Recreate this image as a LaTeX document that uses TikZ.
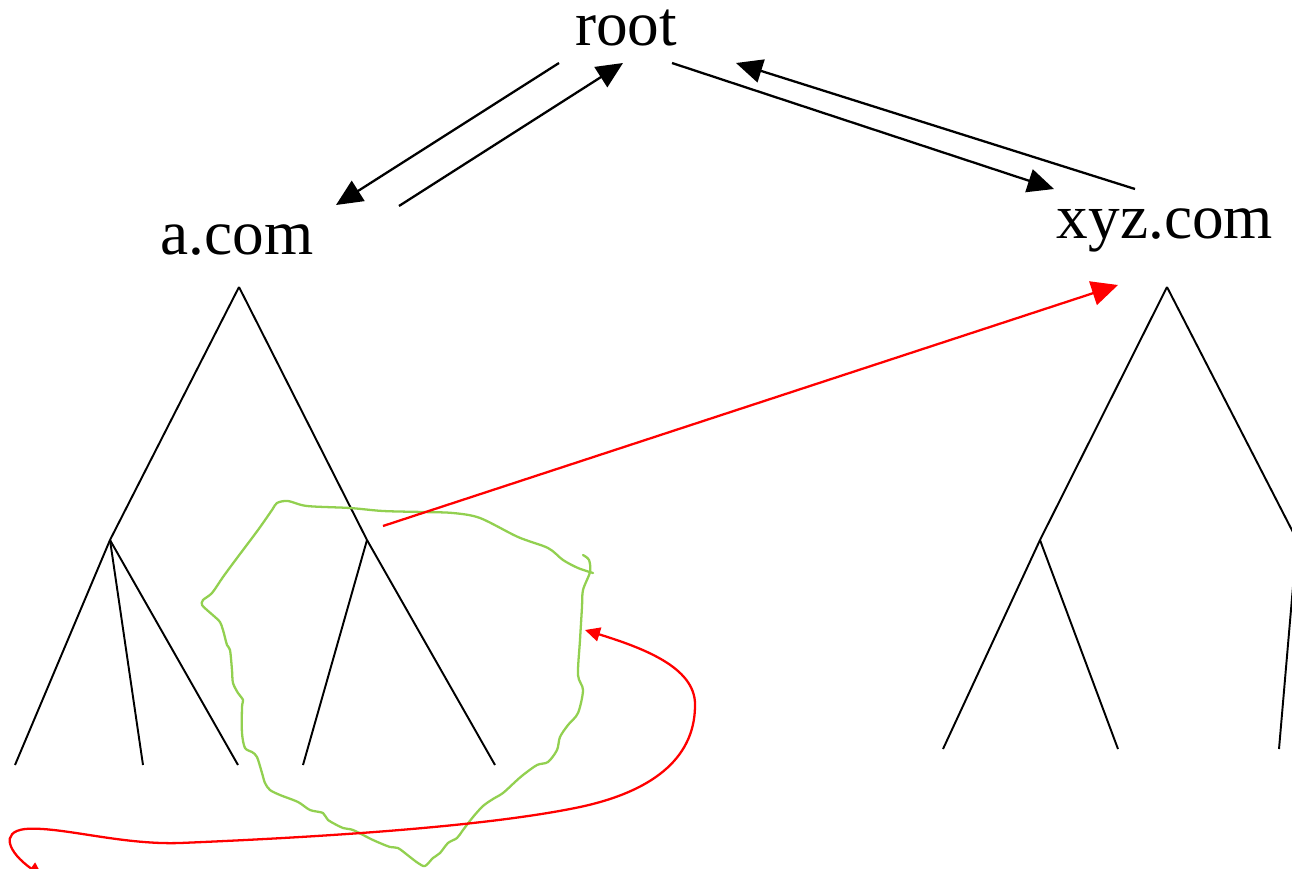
\documentclass[tikz,border=0pt]{standalone}
\usepackage{fontspec}
\setmainfont{Liberation Serif}
\usetikzlibrary{arrows.meta}
\definecolor{scribblegreen}{RGB}{146,208,80}

\begin{document}
\begin{tikzpicture}[x=0.02cm,y=-0.02cm]
\tikzstyle{every node}+=[inner sep=0pt]
\tikzstyle{zonelabel}=[font=\fontsize{36}{40}\selectfont, anchor=base]
\tikzstyle{query}=[black, line width=1.3pt, -{Triangle[length=15pt,width=13.5pt]}]
\tikzstyle{branch}=[black, line width=1.1pt]
\tikzstyle{hop}=[red, line width=1.3pt, -{Triangle[length=15pt,width=14pt]}]
\tikzstyle{loopback}=[red, line width=1.3pt, {Triangle[length=8.5pt,width=8pt]}-{Triangle[length=8.5pt,width=8pt]}]
\tikzstyle{scribble}=[scribblegreen, line width=1.3pt, line join=round, line cap=round]
\useasboundingbox (0,0) rectangle (1292,869);
\clip (0,0) rectangle (1292,869);
\node [zonelabel] (root) at (626,45) {root};
\node [zonelabel] (acom) at (237,254) {a.com};
\node [zonelabel] (xyzcom) at (1165,238) {xyz.com};
\coordinate (root-a-out) at (559,63);
\coordinate (a-in) at (336,205);
\coordinate (a-out) at (399,206);
\coordinate (root-a-in) at (623,63);
\coordinate (root-x-out) at (672,63);
\coordinate (x-in) at (1054,189);
\coordinate (x-out) at (1135,189);
\coordinate (root-x-in) at (736,63);
\draw [query] (root-a-out) -- (a-in);
\draw [query] (a-out) -- (root-a-in);
\draw [query] (root-x-out) -- (x-in);
\draw [query] (x-out) -- (root-x-in);
\coordinate (a0) at (239,287);
\coordinate (a1) at (110,540);
\coordinate (a2) at (367,540);
\coordinate (a11) at (15,765);
\coordinate (a12) at (143,765);
\coordinate (a13) at (238,765);
\coordinate (a21) at (303,765);
\coordinate (a22) at (495,765);
\draw [branch] (a0) -- (a1);
\draw [branch] (a0) -- (a2);
\draw [branch] (a1) -- (a11);
\draw [branch] (a1) -- (a12);
\draw [branch] (a1) -- (a13);
\draw [branch] (a2) -- (a21);
\draw [branch] (a2) -- (a22);
\coordinate (x0) at (1167,287);
\coordinate (x1) at (1040,540);
\coordinate (x2) at (1297,540);
\coordinate (x11) at (943,749);
\coordinate (x12) at (1118,749);
\coordinate (x21) at (1279,749);
\draw [branch] (x0) -- (x1);
\draw [branch] (x0) -- (x2);
\draw [branch] (x1) -- (x11);
\draw [branch] (x1) -- (x12);
\draw [branch] (x2) -- (x21);
\draw [scribble] plot [smooth, tension=0.5] coordinates {
(583,555) (589,560) (590,572) (583,590) (582,607) (580,640) (578,675)
(583,690) (578,713) (568,725) (560,737) (557,750) (548,762) (537,765)
(523,775) (515,782) (503,793) (493,799) (483,806) (473,817) (463,830)
(457,838) (448,843) (440,853) (433,858) (425,866) (418,863) (410,857)
(398,848) (390,847) (373,840) (353,830) (343,828) (328,820) (323,813)
(310,810) (298,802) (280,795) (270,790) (265,783) (262,773) (257,757)
(252,752) (245,748) (242,733) (242,707) (243,700) (238,693) (233,683)
(232,670) (230,650) (227,645) (223,630) (220,622) (215,617) (207,610)
(202,605) (203,600) (212,593) (223,577) (237,558) (258,530) (272,510)
(277,503) (288,501) (307,506) (350,508) (383,511) (423,512) (453,513)
(480,518) (518,537) (548,548) (563,560) (578,568) (593,573)};
\coordinate (cut) at (383,526);
\coordinate (x-hit) at (1118,285);
\draw [hop] (cut) -- (x-hit);
\coordinate (loop-in) at (585,630);
\coordinate (off-page) at (43,877);
\draw [loopback] (loop-in) .. controls (650,650) and (697,670) .. (695,707)
  .. controls (694,760) and (650,792) .. (580,807)
  .. controls (480,828) and (300,838) .. (180,843)
  .. controls (120,845) and (60,826) .. (25,829)
  .. controls (0,832) and (8,852) .. (off-page);
\end{tikzpicture}
\end{document}
